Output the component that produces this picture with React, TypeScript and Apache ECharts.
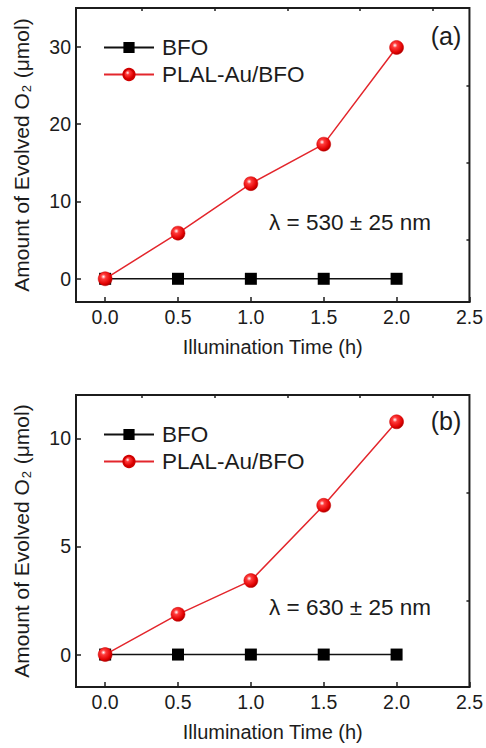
import React, { useEffect, useRef } from "react";
import * as echarts from "echarts";

const timeHours = [0, 0.5, 1.0, 1.5, 2.0];
const bfoA = [0, 0, 0, 0, 0];
const plalA = [0, 5.9, 12.3, 17.4, 29.9];
const bfoB = [0, 0, 0, 0, 0];
const plalB = [0, 1.86, 3.42, 6.9, 10.76];

const xTicks = [0, 0.5, 1.0, 1.5, 2.0, 2.5];
const xMinorTicks = [0.25, 0.75, 1.25, 1.75, 2.25];
const yTicksA = [0, 10, 20, 30];
const yMinorA = [5, 15, 25];
const yTicksB = [0, 5, 10];
const yMinorB = [2.5, 7.5];

const seriesNames = ["BFO", "PLAL-Au/BFO"];
const panelLabels = ["(a)", "(b)"];
const wavelengthLabels = ["λ = 530 ± 25 nm", "λ = 630 ± 25 nm"];

const FONT = "Liberation Sans, Arial, sans-serif";
const TXT = "#1c1c1c";

const sphere = {
  type: "radial",
  x: 0.38,
  y: 0.35,
  r: 0.7,
  colorStops: [
    { offset: 0, color: "#ffffff" },
    { offset: 0.25, color: "#ff3a3a" },
    { offset: 0.75, color: "#e00000" },
    { offset: 1, color: "#9a0000" },
  ],
};

function mainX(gridIndex: number) {
  return {
    type: "value",
    gridIndex,
    min: -0.2,
    max: 2.5,
    name: "Illumination Time (h)",
    nameLocation: "middle",
    nameGap: 35,
    nameTextStyle: { fontFamily: FONT, fontSize: 20, color: TXT },
    axisLine: { show: true, onZero: false, lineStyle: { color: TXT, width: 2 } },
    axisTick: { show: true, inside: true, length: 5, customValues: xTicks, lineStyle: { color: TXT, width: 1.5 } },
    axisLabel: {
      show: true,
      customValues: xTicks,
      margin: 5,
      fontFamily: FONT,
      fontSize: 19.5,
      color: TXT,
      formatter: (v: number) => v.toFixed(1),
    },
    splitLine: { show: false },
  };
}
function minorX(gridIndex: number) {
  return {
    type: "value",
    gridIndex,
    min: -0.2,
    max: 2.5,
    axisLine: { show: false, onZero: false },
    axisTick: { show: true, inside: true, length: 3, customValues: xMinorTicks, lineStyle: { color: TXT, width: 1.5 } },
    axisLabel: { show: false },
    splitLine: { show: false },
  };
}
function mainY(gridIndex: number, min: number, max: number, ticks: number[]) {
  return {
    type: "value",
    gridIndex,
    min,
    max,
    name: "Amount of Evolved O{sub|2} (μmol)",
    nameLocation: "middle",
    nameGap: 43,
    nameTextStyle: {
      fontFamily: FONT,
      fontSize: 21,
      color: TXT,
      rich: { sub: { fontFamily: FONT, fontSize: 13, color: TXT, verticalAlign: "bottom", padding: [10, 1, 0, 1] } },
    },
    axisLine: { show: true, onZero: false, lineStyle: { color: TXT, width: 2 } },
    axisTick: { show: true, inside: true, length: 5, customValues: ticks, lineStyle: { color: TXT, width: 1.5 } },
    axisLabel: { show: true, customValues: ticks, margin: 5, fontFamily: FONT, fontSize: 19.5, color: TXT },
    splitLine: { show: false },
  };
}
function minorY(gridIndex: number, min: number, max: number, ticks: number[]) {
  return {
    type: "value",
    gridIndex,
    min,
    max,
    axisLine: { show: false, onZero: false },
    axisTick: { show: true, inside: true, length: 3, customValues: ticks, lineStyle: { color: TXT, width: 1.5 } },
    axisLabel: { show: false },
    splitLine: { show: false },
  };
}

function bfoSeries(xi: number, yi: number, vals: number[]) {
  return {
    name: seriesNames[0],
    type: "line",
    xAxisIndex: xi,
    yAxisIndex: yi,
    data: timeHours.map((t, i) => [t, vals[i]]),
    symbol: "rect",
    symbolSize: 12,
    lineStyle: { color: "#111", width: 1.5 },
    itemStyle: { color: "#000" },
    z: 2,
  };
}
function plalSeries(xi: number, yi: number, vals: number[]) {
  return {
    name: seriesNames[1],
    type: "line",
    xAxisIndex: xi,
    yAxisIndex: yi,
    data: timeHours.map((t, i) => [t, vals[i]]),
    symbol: "circle",
    symbolSize: 14,
    lineStyle: { color: "#e3262c", width: 1.5 },
    itemStyle: { color: sphere, borderColor: "#d00000", borderWidth: 0.5 },
    z: 3,
  };
}

function legend(top: number) {
  return {
    orient: "vertical",
    left: 98,
    top,
    itemWidth: 50,
    itemHeight: 14,
    itemGap: 4,
    selectedMode: false,
    textStyle: { fontFamily: FONT, fontSize: 22.5, color: TXT, padding: [0, 0, 0, 3] },
    data: seriesNames,
  };
}

export default function App() {
  const ref = useRef<HTMLDivElement>(null);
  useEffect(() => {
    if (!ref.current) return;
    const chart = echarts.init(ref.current, undefined, { renderer: "svg" });
    chart.setOption({
      animation: false,
      backgroundColor: "#fff",
      grid: [
        { left: 76, top: 8, width: 395, height: 294, show: true, borderColor: TXT, borderWidth: 2, backgroundColor: "transparent" },
        { left: 76, top: 395, width: 395, height: 292, show: true, borderColor: TXT, borderWidth: 2, backgroundColor: "transparent" },
      ],
      xAxis: [mainX(0), minorX(0), mainX(1), minorX(1)],
      yAxis: [
        mainY(0, -3, 35, yTicksA),
        minorY(0, -3, 35, yMinorA),
        mainY(1, -1.5, 12, yTicksB),
        minorY(1, -1.5, 12, yMinorB),
      ],
      legend: [legend(31), legend(418)],
      series: [
        bfoSeries(0, 0, bfoA),
        plalSeries(0, 0, plalA),
        bfoSeries(2, 2, bfoB),
        plalSeries(2, 2, plalB),
      ],
      graphic: [
        { type: "text", x: 446, y: 36, style: { text: panelLabels[0], font: `25px ${FONT}`, fill: TXT, align: "center", verticalAlign: "middle" } },
        { type: "text", x: 446, y: 421, style: { text: panelLabels[1], font: `25px ${FONT}`, fill: TXT, align: "center", verticalAlign: "middle" } },
        { type: "text", x: 350, y: 222, style: { text: wavelengthLabels[0], font: `22.5px ${FONT}`, fill: TXT, align: "center", verticalAlign: "middle" } },
        { type: "text", x: 350, y: 607, style: { text: wavelengthLabels[1], font: `22.5px ${FONT}`, fill: TXT, align: "center", verticalAlign: "middle" } },
      ],
    });
    return () => chart.dispose();
  }, []);
  return <div ref={ref} style={{ position: "absolute", left: 0, top: 0, width: 486, height: 748 }} />;
}
